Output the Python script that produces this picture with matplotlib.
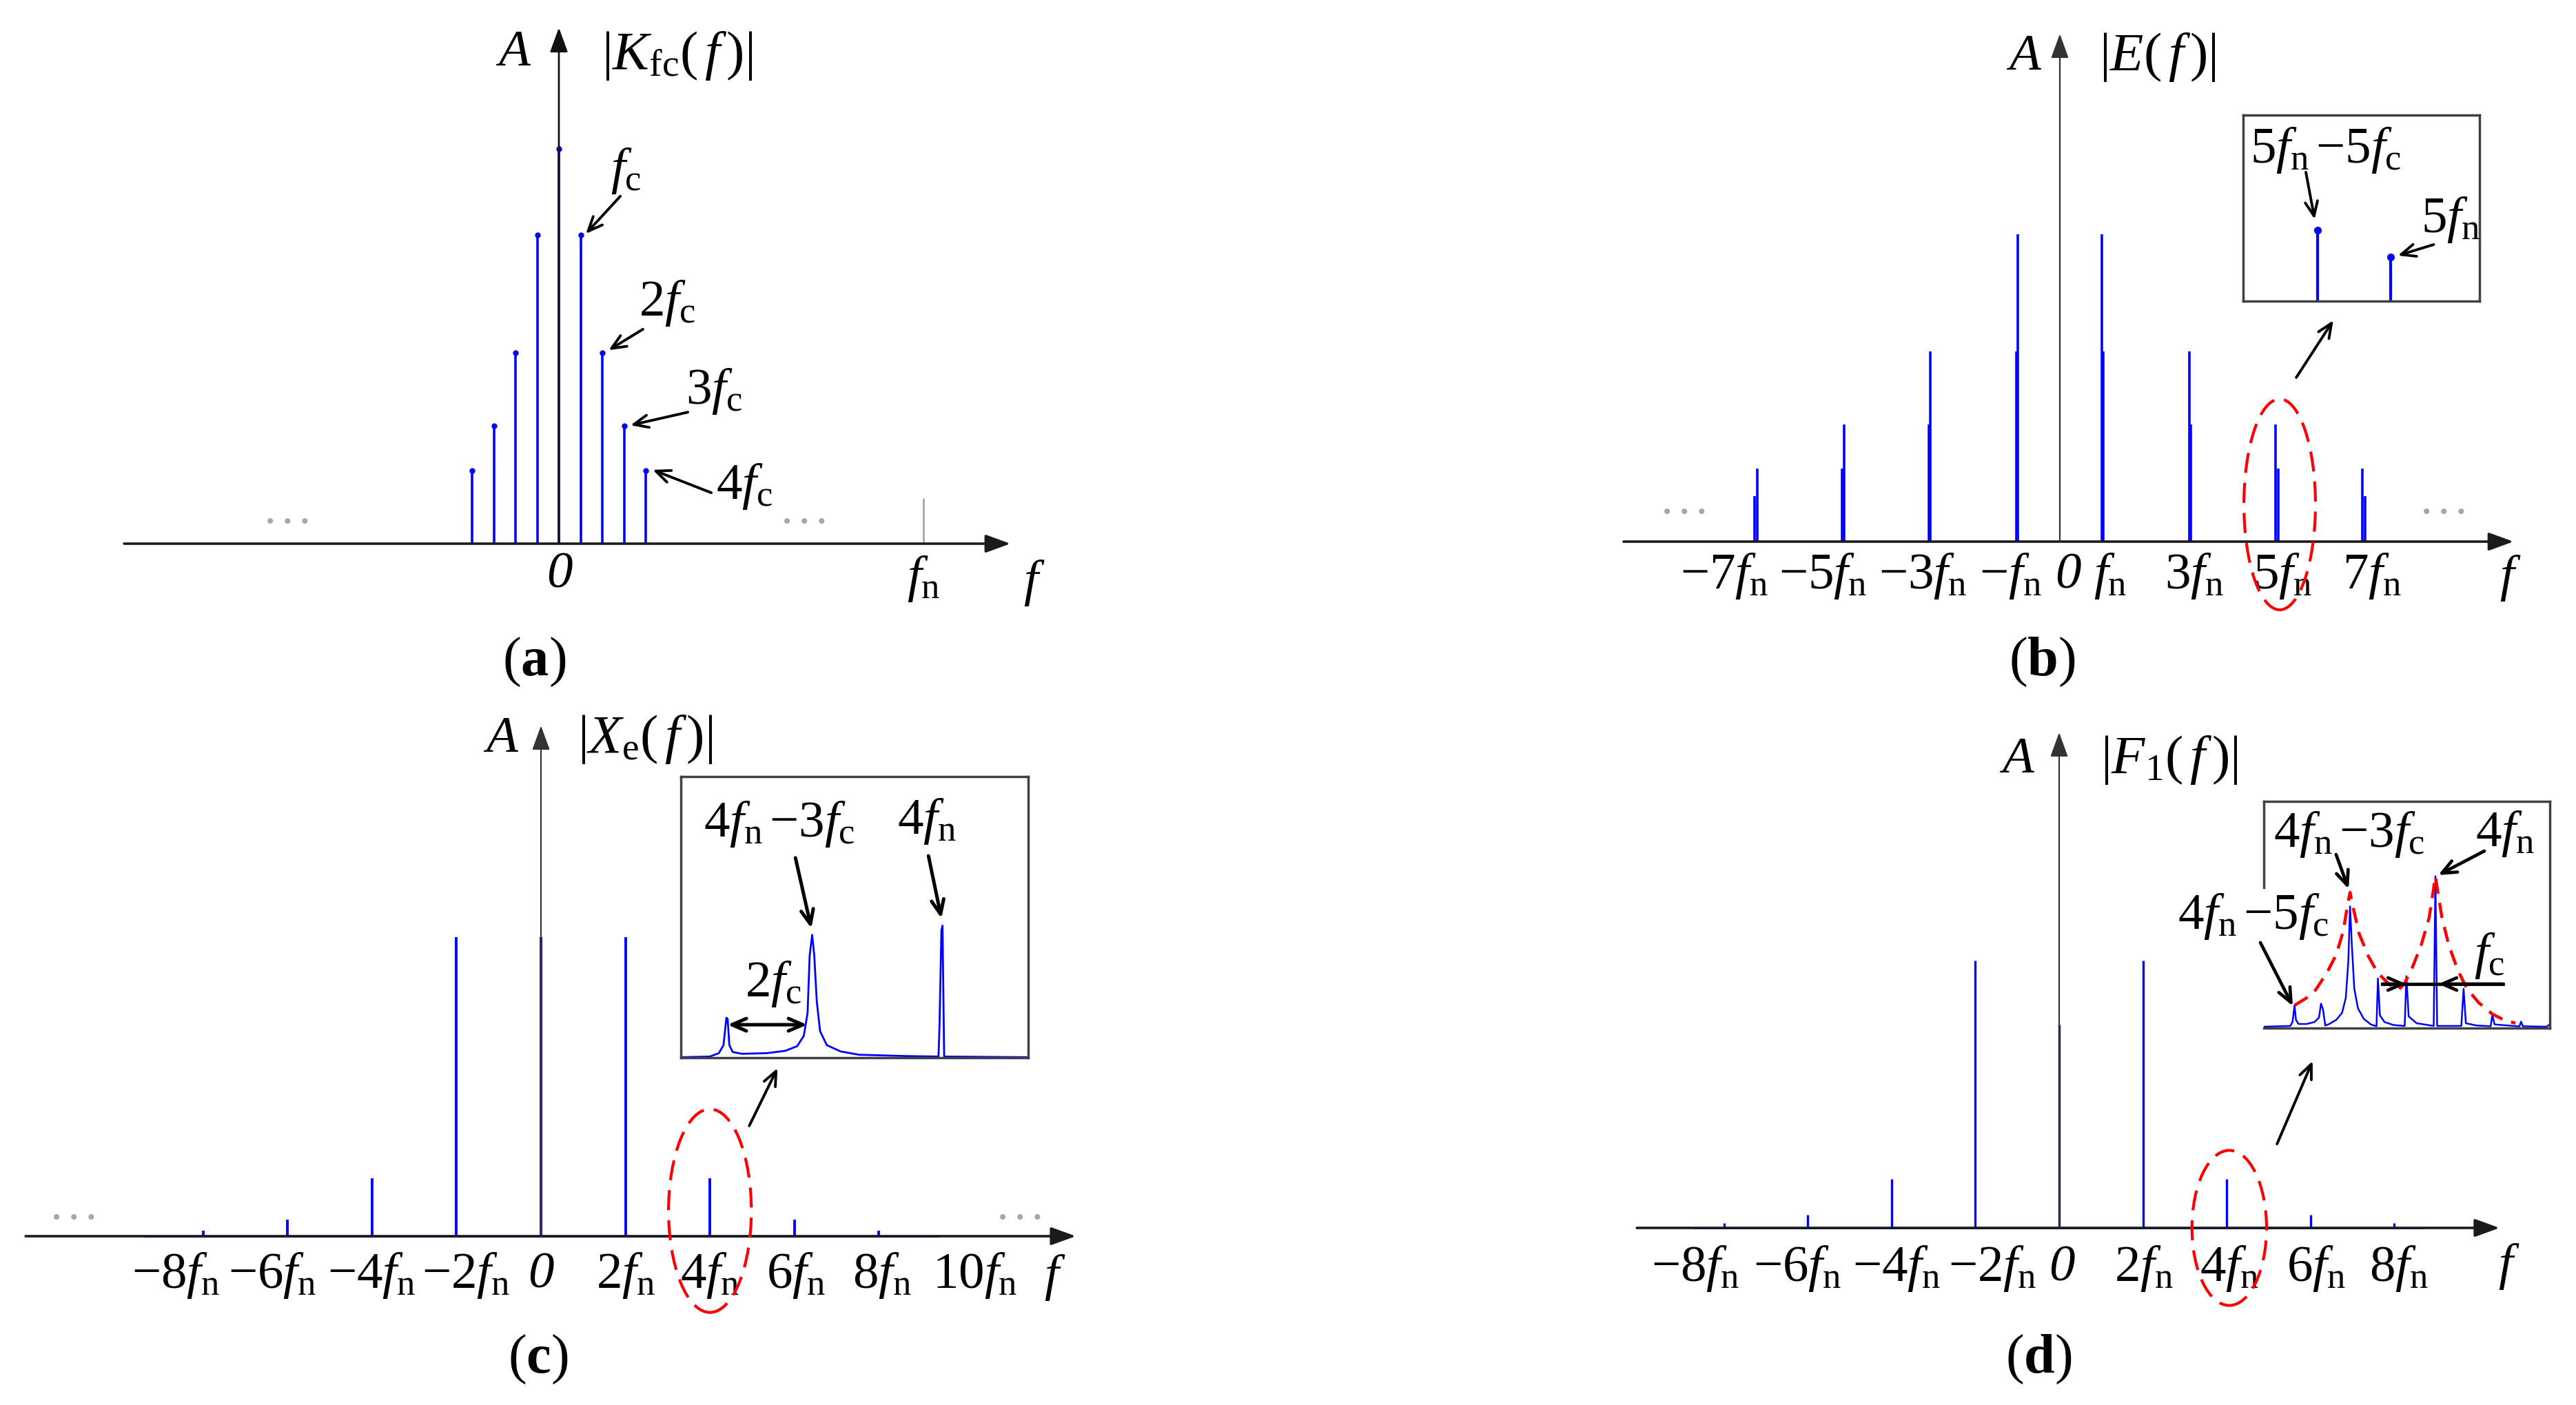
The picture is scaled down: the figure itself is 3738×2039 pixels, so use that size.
import matplotlib.pyplot as plt
from matplotlib.patches import Ellipse

plt.rcParams.update({
    'font.family': 'Liberation Serif',
    'mathtext.fontset': 'custom',
    'mathtext.rm': 'Liberation Serif',
    'mathtext.it': 'Liberation Serif:italic',
    'mathtext.bf': 'Liberation Serif:bold',
})

# ---- data ----
# (a) |K_fc(f)|, x in units of fc
a_k = [-4, -3, -2, -1, 0, 1, 2, 3, 4]
a_amp = [0.185, 0.298, 0.483, 0.782, 1.0, 0.782, 0.483, 0.298, 0.185]
a_fn_pos = 16.8
a_fn_amp = 0.115

# (b) |E(f)|, x in units of fn
b_k = [1, 3, 5, 7]
b_amp_shift = [1.0, 0.618, 0.382, 0.238]   # line at k*fn - k*fc
b_amp_main = [0.618, 0.382, 0.238, 0.148]   # line at k*fn
b_shift = [0.03, 0.03, 0.05, 0.07]          # k*fc in fn units
b_labels = ['$-7f_\\mathrm{n}$', '$-5f_\\mathrm{n}$', '$-3f_\\mathrm{n}$', '$-f_\\mathrm{n}$',
            '0', '$f_\\mathrm{n}$', '$3f_\\mathrm{n}$', '$5f_\\mathrm{n}$', '$7f_\\mathrm{n}$']
b_label_pos = [-7.7, -5.44, -3.14, -1.14, 0.19, 1.15, 3.08, 5.1, 7.15]
# inset (b): 5fn-5fc and 5fn, x in units of 5fc
bi_x = [-1, 0]
bi_amp = [b_amp_shift[2], b_amp_main[2]]

# (c) |X_e(f)|
c_k = [-8, -6, -4, -2, 0, 2, 4, 6, 8]
c_amp = [0.018, 0.056, 0.194, 1.0, 1.0, 1.0, 0.194, 0.056, 0.018]
c_span = 9.4
c_labels = ['$-8f_\\mathrm{n}$', '$-6f_\\mathrm{n}$', '$-4f_\\mathrm{n}$', '$-2f_\\mathrm{n}$',
            '0', '$2f_\\mathrm{n}$', '$4f_\\mathrm{n}$', '$6f_\\mathrm{n}$',
            '$8f_\\mathrm{n}$', '$10f_\\mathrm{n}$']
c_label_pos = [-8.65, -6.36, -4.01, -1.78, 0.0, 2.0, 4.0, 6.04, 8.08, 10.28]
# inset (c): spectrum around 4fn, x in units of fc relative to 4fn
ci_x = [-6.22, -5.55, -5.33, -5.22, -5.15, -5.12, -5.08, -5.0, -4.78, -4.18, -3.74, -3.46,
        -3.30, -3.21, -3.16, -3.10, -3.05, -2.99, -2.91, -2.75, -2.42, -1.98, -0.88, -0.08,
        -0.055, -0.01, 0.016, 0.055, 2.07]
ci_y = [0.0, 0.005, 0.031, 0.092, 0.30, 0.29, 0.092, 0.04, 0.026, 0.031, 0.049, 0.084,
        0.162, 0.337, 0.773, 0.93, 0.773, 0.424, 0.197, 0.092, 0.044, 0.019, 0.009, 0.005,
        0.25, 0.965, 1.0, 0.005, 0.0]

# (d) |F_1(f)|
d_k = [-8, -6, -4, -2, 0, 2, 4, 6, 8]
d_amp = [0.017, 0.048, 0.184, 1.0, 0.76, 1.0, 0.184, 0.048, 0.017]
d_span = 8.7
d_labels = c_labels[:9]
d_label_pos = [-8.68, -6.25, -3.88, -1.6, 0.07, 2.02, 4.06, 6.13, 8.1]
# inset (d): spectrum around 4fn, x in units of fc relative to 4fn
di_x = [-6.03, -5.10, -5.02, -4.95, -4.90, -4.81, -4.53, -4.25, -4.09, -4.02, -3.95, -3.87,
        -3.73, -3.48, -3.28, -3.15, -3.06, -3.0, -2.94, -2.85, -2.72, -2.52, -2.27, -2.07,
        -2.02, -1.95, -1.79, -1.47, -1.08, -1.02, -0.94, -0.66, -0.06, 0.0, 0.06, 0.91,
        0.99, 1.07, 1.44, 1.94, 2.0, 2.08, 2.95, 3.01, 3.07, 3.9, 4.02]
di_y = [0.0, 0.005, 0.031, 0.142, 0.046, 0.018, 0.018, 0.031, 0.061, 0.153, 0.115, 0.008,
        0.018, 0.046, 0.092, 0.191, 0.435, 0.80, 0.557, 0.252, 0.122, 0.053, 0.015, 0.003,
        0.321, 0.076, 0.031, 0.011, 0.005, 0.336, 0.069, 0.023, 0.005, 1.0, 0.005, 0.005,
        0.252, 0.023, 0.008, 0.003, 0.076, 0.015, 0.002, 0.034, 0.003, 0.0, 0.015]
env_x = [-4.95, -4.53, -4.21, -3.81, -3.48, -3.24, -3.08, -3.0, -2.92, -2.68, -2.35, -2.03,
         -1.63, -1.31, -1.10, -0.82, -0.50, -0.22, -0.06, 0.0, 0.06, 0.23, 0.47, 0.79,
         1.11, 1.52, 2.0, 2.40, 2.81]
env_y = [0.142, 0.191, 0.244, 0.359, 0.481, 0.634, 0.817, 0.893, 0.817, 0.618, 0.466, 0.359,
         0.282, 0.244, 0.282, 0.389, 0.542, 0.725, 0.924, 1.0, 0.924, 0.725, 0.542, 0.374,
         0.252, 0.160, 0.084, 0.046, 0.023]

BLUE = '#0000ff'
GRAY = '#a6a6a6'
FS = 54
W, H = 3738, 2039

fig = plt.figure(figsize=(W / 100, H / 100), dpi=100)


def make_axes(rect, origin, scale, box=False):
    # rect/origin in pixels of the output image, scale = pixels per data unit
    left, top, right, bottom = rect
    x0, y0 = origin
    sx, sy = scale
    ax = fig.add_axes([left / W, 1 - bottom / H, (right - left) / W, (bottom - top) / H])
    ax.set_xlim((left - x0) / sx, (right - x0) / sx)
    ax.set_ylim((y0 - bottom) / sy, (y0 - top) / sy)
    if box:
        ax.set_xticks([])
        ax.set_yticks([])
        ax.patch.set_facecolor('white')
        for s in ax.spines.values():
            s.set_color('#404040')
            s.set_linewidth(2.5)
    else:
        ax.axis('off')
    return ax


def axes_arrows(ax, x_start, x_end, y_top, vcolor='#333333', vlw=1.6):
    head = '-|>,head_length=2.2,head_width=0.8'
    ax.annotate('', xy=(x_end, 0), xytext=(x_start, 0),
                arrowprops=dict(arrowstyle=head, color='#1a1a1a', lw=2.6,
                                shrinkA=0, shrinkB=0, mutation_scale=10))
    ax.annotate('', xy=(0, y_top), xytext=(0, 0),
                arrowprops=dict(arrowstyle=head, color=vcolor, lw=vlw,
                                shrinkA=0, shrinkB=0, mutation_scale=10))


def pointer(ax, start, end, style='->', lw=2.8):
    ax.annotate('', xy=end, xytext=start,
                arrowprops=dict(arrowstyle=style + ',head_length=1.5,head_width=0.65',
                                color='black', lw=lw, shrinkA=0, shrinkB=0,
                                mutation_scale=10))


def txt(ax, x, y, s, size=FS):
    # plain "0" is drawn in italic like the original
    if s == '0':
        ax.text(x, y, s, ha='center', va='center', fontsize=size, style='italic')
    else:
        ax.text(x, y, s, ha='center', va='center', fontsize=size)


def dots(ax, x, y):
    ax.text(x, y, '\u2022 \u2022 \u2022', ha='center', va='center', fontsize=20, color=GRAY,
            family='DejaVu Sans')


def ring(ax, center, w, h):
    ax.add_patch(Ellipse(center, w, h, fill=False, ec='#ff0000', lw=3.0,
                         ls=(0, (7, 3.5)), zorder=5))


# ---------------- (a) ----------------
ax = make_axes((0, 0, 1869, 1019), (811, 789), (31.5, 573))
axes_arrows(ax, -20.03, 20.8, 1.307, vcolor='#111111', vlw=2.0)
ax.vlines(a_k, 0, a_amp, color=BLUE, lw=2.6)
ax.plot(a_k, a_amp, 'o', color=BLUE, ms=5)
ax.vlines([a_fn_pos], 0, [a_fn_amp], color=GRAY, lw=2)
dots(ax, -12.5, 0.054)
dots(ax, 11.3, 0.054)
txt(ax, -2.1, 1.243, '$A$')
txt(ax, 5.46, 1.236, '$|K_{\\mathrm{fc}}(\\,f\\,)|$', 57)
txt(ax, 0.03, -0.079, '0')
txt(ax, a_fn_pos, -0.089, '$f_\\mathrm{n}$')
txt(ax, 21.9, -0.10, '$f$')
txt(ax, -1.14, -0.30, '$(\\mathbf{a})$', 58)
txt(ax, 3.08, 0.944, '$f_\\mathrm{c}$')
pointer(ax, (2.83, 0.88), (1.24, 0.785))
txt(ax, 4.98, 0.609, '$2f_\\mathrm{c}$')
pointer(ax, (3.87, 0.543), (2.29, 0.49))
txt(ax, 7.14, 0.386, '$3f_\\mathrm{c}$')
pointer(ax, (5.94, 0.333), (3.3, 0.30))
txt(ax, 8.54, 0.145, '$4f_\\mathrm{c}$')
pointer(ax, (7.02, 0.129), (4.32, 0.187))

# ---------------- (b) ----------------
ax = make_axes((1869, 0, 3738, 1019), (2989, 786), (63.3, 446))
axes_arrows(ax, -10.0, 10.4, 1.652)
for k, hs, hm, d in zip(b_k, b_amp_shift, b_amp_main, b_shift):
    ax.vlines([k - d, -(k - d)], 0, hs, color=BLUE, lw=2.6)
    ax.vlines([k, -k], 0, hm, color=BLUE, lw=2.6)
dots(ax, -8.6, 0.094)
dots(ax, 8.8, 0.094)
txt(ax, -0.82, 1.576, '$A$')
txt(ax, 2.24, 1.576, '$|E(\\,f\\,)|$', 57)
for p, lab in zip(b_label_pos, b_labels):
    txt(ax, p, -0.112, lab)
txt(ax, 10.32, -0.119, '$f$')
txt(ax, -0.41, -0.392, '$(\\mathbf{b})$', 58)
ring(ax, (5.04, 0.121), 1.64, 0.686)
pointer(ax, (5.42, 0.534), (6.27, 0.72))

axi = make_axes((3255, 167, 3598, 437), (3469, 437), (106, 270), box=True)
axi.vlines(bi_x, 0, bi_amp, color=BLUE, lw=3)
axi.plot(bi_x, bi_amp, 'o', color=BLUE, ms=7)
txt(axi, -0.89, 0.81, '$5f_\\mathrm{n}\\,{-}5f_\\mathrm{c}$')
pointer(axi, (-1.16, 0.693), (-1.04, 0.44))
txt(axi, 0.82, 0.437, '$5f_\\mathrm{n}$')
pointer(axi, (0.59, 0.304), (0.10, 0.245))

# ---------------- (c) ----------------
ax = make_axes((0, 1019, 1869, 2039), (785, 1794), (61.3, 434))
ax.plot([-c_span, c_span], [0, 0], color=BLUE, lw=2)
ax.vlines(c_k, 0, c_amp, color=BLUE, lw=2.8)
axes_arrows(ax, -12.2, 12.66, 1.707)
dots(ax, -11.06, 0.06)
dots(ax, 11.34, 0.06)
txt(ax, -0.95, 1.661, '$A$')
txt(ax, 2.46, 1.661, '$|X_{\\mathrm{e}}(\\,f\\,)|$', 57)
for p, lab in zip(c_label_pos, c_labels):
    txt(ax, p, -0.131, lab)
txt(ax, 12.17, -0.138, '$f$')
txt(ax, -0.07, -0.412, '$(\\mathbf{c})$', 58)
ring(ax, (4.0, 0.085), 1.96, 0.68)
pointer(ax, (4.93, 0.369), (5.6, 0.562))

axi = make_axes((988, 1127, 1492, 1535), (1366.7, 1534.3), (60.7, 191), box=True)
axi.plot(ci_x, ci_y, color=BLUE, lw=2)
txt(axi, -3.88, 1.77, '$4f_\\mathrm{n}\\,{-}3f_\\mathrm{c}$')
pointer(axi, (-3.5, 1.515), (-3.12, 0.98), lw=3.6)
txt(axi, -0.36, 1.79, '$4f_\\mathrm{n}$')
pointer(axi, (-0.32, 1.53), (-0.01, 1.055), lw=3.6)
txt(axi, -4.03, 0.556, '$2f_\\mathrm{c}$')
pointer(axi, (-5.12, 0.247), (-3.22, 0.247), style='<->', lw=3.6)

# ---------------- (d) ----------------
ax = make_axes((1869, 1019, 3738, 2039), (2988, 1782), (60.8, 388))
ax.plot([-d_span, d_span], [0, 0], color=BLUE, lw=2)
ax.vlines(d_k, 0, d_amp, color=BLUE, lw=2.4)
axes_arrows(ax, -10.08, 10.51, 1.853)
txt(ax, -1.0, 1.75, '$A$')
txt(ax, 2.62, 1.75, '$|F_1(\\,f\\,)|$', 57)
for p, lab in zip(d_label_pos, d_labels):
    txt(ax, p, -0.152, lab)
txt(ax, 10.74, -0.144, '$f$')
txt(ax, -0.49, -0.492, '$(\\mathbf{d})$', 58)
ring(ax, (4.06, 0.0), 1.78, 0.58)
pointer(ax, (5.2, 0.314), (6.05, 0.624))

axi = make_axes((3285, 1163, 3700, 1492), (3534, 1490), (41.3, 218.3), box=True)
axi.spines['left'].set_visible(False)
axi.plot([-6.03, -6.03], [0.925, 1.5], color='#404040', lw=2.5, clip_on=False)
axi.plot(di_x, di_y, color=BLUE, lw=1.8)
axi.plot(env_x, env_y, color='#ff0000', lw=3.2, ls=(0, (5, 3)))
txt(axi, -3.03, 1.278, '$4f_\\mathrm{n}\\,{-}3f_\\mathrm{c}$')
pointer(axi, (-3.49, 1.145), (-3.05, 0.916), lw=3.4)
txt(axi, 2.45, 1.283, '$4f_\\mathrm{n}$')
pointer(axi, (1.72, 1.168), (0.10, 1.008), lw=3.4)
axi.text(-6.39, 0.733, '$4f_\\mathrm{n}\\,{-}5f_\\mathrm{c}$', ha='center', va='center',
         fontsize=FS, clip_on=False)
pointer(axi, (-6.15, 0.559), (-5.01, 0.137), lw=3.4)
txt(axi, 1.89, 0.472, '$f_\\mathrm{c}$')
axi.plot([-1.86, 2.37], [0.284, 0.284], color='black', lw=3.4)
pointer(axi, (-1.86, 0.284), (-1.02, 0.284), lw=3.4)
pointer(axi, (2.37, 0.284), (0.10, 0.284), lw=3.4)

fig.savefig('out.png', dpi=100, facecolor='white')
